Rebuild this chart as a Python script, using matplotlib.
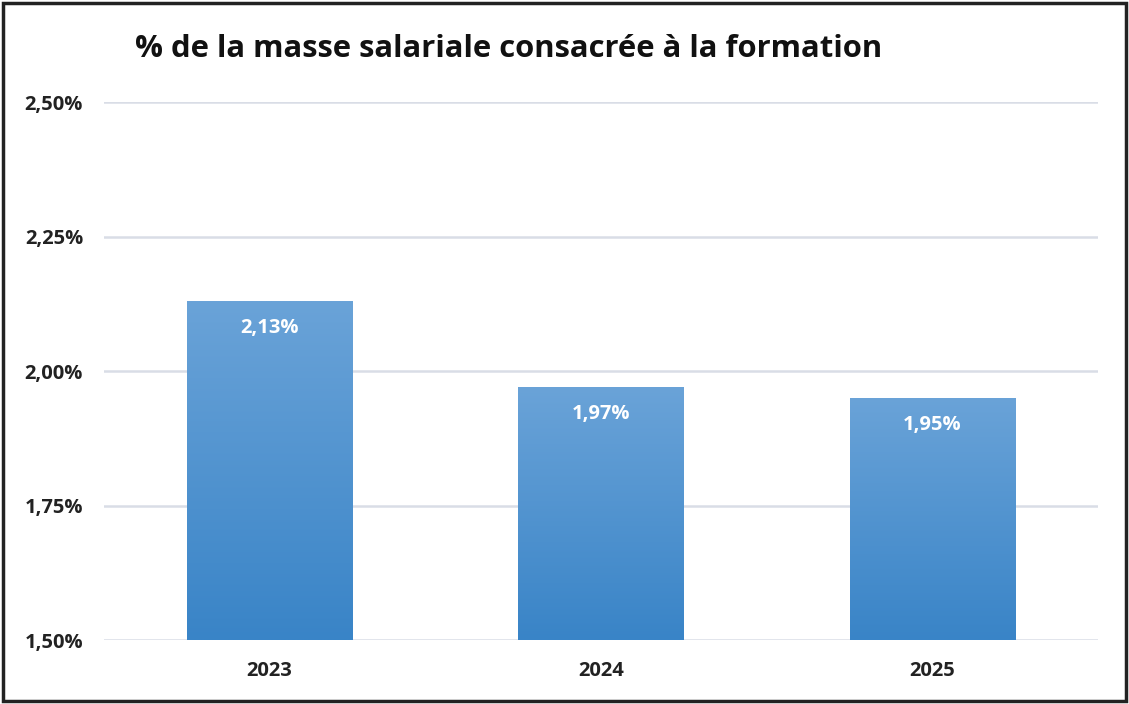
import numpy as np
import matplotlib.pyplot as plt
from matplotlib.patches import Rectangle
from matplotlib.colors import LinearSegmentedColormap

# données
annees = ['2023', '2024', '2025']
valeurs = [2.13, 1.97, 1.95]
etiquettes = ['2,13%', '1,97%', '1,95%']
ticks_y = [1.50, 1.75, 2.00, 2.25, 2.50]
ticks_y_labels = ['1,50%', '1,75%', '2,00%', '2,25%', '2,50%']

plt.rcParams['font.family'] = ['Open Sans', 'DejaVu Sans']

fig = plt.figure(figsize=(11.29, 7.04), dpi=100)
ax = fig.add_axes([0.0921, 0.0909, 0.8805, 0.7642])

x = np.arange(len(annees))
bars = ax.bar(x, valeurs, width=0.5, bottom=0, color='none', zorder=3)

# dégradé vertical dans chaque barre
grad = np.linspace(0, 1, 256).reshape(-1, 1)
cmap = LinearSegmentedColormap.from_list('bleu', ['#3984c7', '#6aa3d8'])
for b in bars:
    bx, bw, bh = b.get_x(), b.get_width(), b.get_height()
    im = ax.imshow(grad, cmap=cmap, origin='lower', aspect='auto',
                   extent=[bx, bx + bw, 1.50, bh], zorder=3)
    im.set_clip_path(Rectangle((bx, 1.50), bw, bh - 1.50, transform=ax.transData))

ax.set_xlim(-0.5, 2.5)
ax.set_ylim(1.50, 2.50)

for xi, v, lab in zip(x, valeurs, etiquettes):
    ax.annotate(lab, (xi, v), xytext=(0, -19.5), textcoords='offset points',
                ha='center', va='center', color='white', fontsize=14.5,
                fontweight='bold', zorder=5)

ax.set_yticks(ticks_y)
ax.set_yticklabels(ticks_y_labels)
ax.set_xticks(x)
ax.set_xticklabels(annees)
ax.grid(axis='y', color='#d9dde6', linewidth=1.8, zorder=0)
ax.set_axisbelow(True)
for s in ax.spines.values():
    s.set_visible(False)
ax.tick_params(length=0, labelsize=14.5)
ax.tick_params(axis='y', pad=15)
ax.tick_params(axis='x', pad=15)
for t in ax.get_xticklabels() + ax.get_yticklabels():
    t.set_fontweight('bold')
    t.set_color('#222222')

fig.text(0.1196, 0.931, '% de la masse salariale consacrée à la formation',
         fontsize=22.3, fontweight='bold', color='#111111', va='center', ha='left')

# cadre noir autour de la figure
fig.patches.append(Rectangle((0.003, 0.004), 0.994, 0.992, transform=fig.transFigure,
                             fill=False, edgecolor='#222222', linewidth=2.5))

fig.savefig('out.png', dpi=100)
